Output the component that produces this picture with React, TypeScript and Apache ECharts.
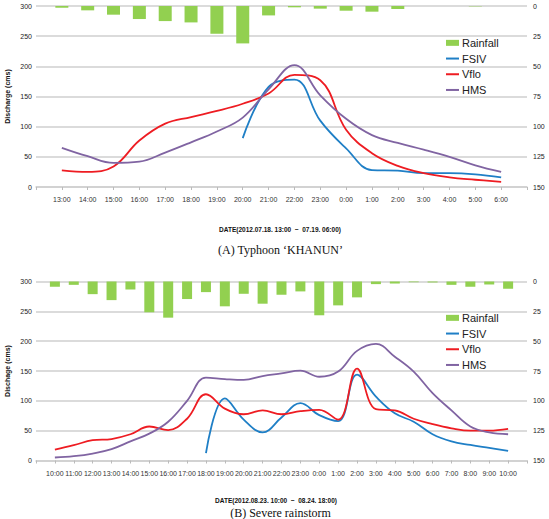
import React, { useEffect, useRef } from "react";
import * as echarts from "echarts";

// Typhoon KHANUN, 2012.07.18 13:00 ~ 07.19 06:00
const hoursA = ["13:00", "14:00", "15:00", "16:00", "17:00", "18:00", "19:00", "20:00", "21:00", "22:00", "23:00", "0:00", "1:00", "2:00", "3:00", "4:00", "5:00", "6:00"];
const rainA = [1.4, 3.6, 7.2, 10.8, 12.5, 13.6, 23, 31, 7.8, 1.1, 2.2, 3.9, 4.7, 2.5, 0, 0, 0.3, 0];
const fsivA = [null, null, null, null, null, null, null, 81, 166, 178, 110, 64, 28, 27, 23, 23, 21, 16];
const vfloA = [27.5, 25, 34, 77, 105, 116, 126, 138, 155, 186, 177, 95, 56, 35, 23, 16, 12, 8.5];
const hmsA = [65, 51, 40, 42, 57, 74, 92, 115, 162, 202, 152, 113, 86, 73, 62, 50, 36, 25];

// Severe rainstorm, 2012.08.23 10:00 ~ 08.24 10:00
const hoursB = ["10:00", "11:00", "12:00", "13:00", "14:00", "15:00", "16:00", "17:00", "18:00", "19:00", "20:00", "21:00", "22:00", "23:00", "0:00", "1:00", "2:00", "3:00", "4:00", "5:00", "6:00", "7:00", "8:00", "9:00", "10:00"];
const rainB = [4.4, 2.8, 10.6, 15.6, 6.7, 25.8, 30.3, 14.7, 8.9, 20.8, 10.3, 18.6, 11.1, 8.3, 28.3, 20, 13.3, 2.2, 1.7, 0.6, 0.8, 2.8, 4.4, 2.5, 6.1];
const fsivB = [null, null, null, null, null, null, null, null, 12.4, 104, 68.5, 47, 72, 96, 76, 66, 144, 107, 79, 65, 44, 32, 26, 21, 16];
const vfloB = [18.4, 25.7, 34, 36, 44, 57, 51, 70, 111, 87, 77.5, 84, 77.5, 82.6, 85, 68.5, 154, 86, 84, 70, 61, 54, 50, 50, 53];
const hmsB = [5, 7.3, 11.7, 19, 32, 45, 65, 100, 139, 136.5, 135, 141.6, 146, 150.6, 140.4, 149, 183.7, 195.5, 174, 149, 113, 84, 57, 47, 44];

const dischargeTicks = { min: 0, max: 300, interval: 50 };
const rainfallTicks = { min: 0, max: 150, interval: 25 };

const GREEN = "#92d050";
const BLUE = "#1f7fc6";
const RED = "#ee1c22";
const PURPLE = "#8064a2";
const GRID_LINE = "#cfcfcf";

// one empty slot on each side, so the hours sit half a step in from the frame
const padCats = (c: string[]) => ["", ...c, ""];
const padVals = (v: (number | null)[]) => [null, ...v, null];

function xAxis(gridIndex: number, cats: string[]) {
  return {
    type: "category",
    gridIndex,
    data: padCats(cats),
    boundaryGap: false,
    axisLine: { show: true, lineStyle: { color: GRID_LINE, width: 1.5 } },
    axisTick: { show: true, interval: 0, length: 3, lineStyle: { color: "#bbbbbb" } },
    axisLabel: { interval: 0, fontSize: 7, color: "#333", margin: 9, fontFamily: "Liberation Sans" },
    splitLine: { show: false },
  };
}

function yAxes(gridIndex: number) {
  return [
    {
      type: "value",
      gridIndex,
      ...dischargeTicks,
      position: "left",
      axisLine: { show: false },
      axisTick: { show: false },
      axisLabel: { fontSize: 7, color: "#222", margin: 4, fontFamily: "Liberation Sans" },
      splitLine: { show: true, lineStyle: { color: GRID_LINE, width: 1.5 } },
    },
    {
      type: "value",
      gridIndex,
      ...rainfallTicks,
      inverse: true,
      position: "right",
      axisLine: { show: false },
      axisTick: { show: false },
      axisLabel: { fontSize: 7, color: "#222", margin: 6, fontFamily: "Liberation Sans" },
      splitLine: { show: false },
    },
  ];
}

function seriesFor(idx: number, rain: number[], fsiv: (number | null)[], vflo: number[], hms: number[], barWidth: number) {
  const line = (name: string, data: (number | null)[], color: string) => ({
    name,
    type: "line",
    xAxisIndex: idx,
    yAxisIndex: idx * 2,
    data: padVals(data),
    smooth: 0.4,
    symbol: "none",
    connectNulls: false,
    lineStyle: { color, width: 1.8 },
    itemStyle: { color },
    z: 3,
  });
  return [
    {
      name: "Rainfall",
      type: "bar",
      xAxisIndex: idx,
      yAxisIndex: idx * 2 + 1,
      data: padVals(rain),
      barWidth,
      itemStyle: { color: GREEN },
      z: 2,
    },
    line("FSIV", fsiv, BLUE),
    line("Vflo", vflo, RED),
    line("HMS", hms, PURPLE),
  ];
}

// line entries show only the stroke, no marker dot
const lineKey = (name: string) => ({ name, itemStyle: { opacity: 0 }, lineStyle: { width: 2 } });

function legendAt(top: number) {
  return {
    orient: "vertical",
    left: 440,
    top,
    itemWidth: 13,
    itemHeight: 6,
    itemGap: 4,
    data: [{ name: "Rainfall", icon: "rect" }, lineKey("FSIV"), lineKey("Vflo"), lineKey("HMS")],
    textStyle: { fontSize: 11, lineHeight: 11.7, color: "#222", fontFamily: "Liberation Sans", padding: [0, 0, 0, -2] },
    selectedMode: false,
  };
}

const textEl = (text: string, x: number, y: number, style: any, rotation = 0) => ({
  type: "text",
  x,
  y,
  rotation,
  style: { text, align: "center", verticalAlign: "middle", fill: "#111", ...style },
});

export default function App() {
  const ref = useRef<HTMLDivElement>(null);
  useEffect(() => {
    if (!ref.current) return;
    const chart = echarts.init(ref.current, undefined, { renderer: "svg" });
    chart.setOption({
      animation: false,
      backgroundColor: "#ffffff",
      grid: [
        { left: 36, top: 6, width: 491, height: 181 },
        { left: 36, top: 281.5, width: 491, height: 179 },
      ],
      xAxis: [xAxis(0, hoursA), xAxis(1, hoursB)],
      yAxis: [...yAxes(0), ...yAxes(1)],
      legend: [legendAt(32), legendAt(307)],
      series: [
        ...seriesFor(0, rainA, fsivA, vfloA, hmsA, 13),
        ...seriesFor(1, rainB, fsivB, vfloB, hmsB, 10),
      ],
      graphic: [
        textEl("Discharge (cms)", 7, 96.5, { fontSize: 7, fontWeight: "bold", fontFamily: "Liberation Sans" }, Math.PI / 2),
        textEl("DATE(2012.07.18. 13:00  ~  07.19. 06:00)", 280, 229, { fontSize: 6.5, fontWeight: "bold", fontFamily: "Liberation Sans" }),
        textEl("(A) Typhoon \u2018KHANUN\u2019", 280.5, 250, { fontSize: 12, fontFamily: "Liberation Serif" }),
        textEl("Dischage (cms)", 7, 371, { fontSize: 7, fontWeight: "bold", fontFamily: "Liberation Sans" }, Math.PI / 2),
        textEl("DATE(2012.08.23. 10:00  ~  08.24. 18:00)", 276, 500, { fontSize: 6.5, fontWeight: "bold", fontFamily: "Liberation Sans" }),
        textEl("(B) Severe rainstorm", 280.5, 512.5, { fontSize: 12, fontFamily: "Liberation Serif" }),
      ],
    });
    return () => chart.dispose();
  }, []);
  return (
    <div
      ref={ref}
      style={{ position: "absolute", left: 0, top: 0, width: 549, height: 519, background: "#fff", overflow: "hidden" }}
    />
  );
}
